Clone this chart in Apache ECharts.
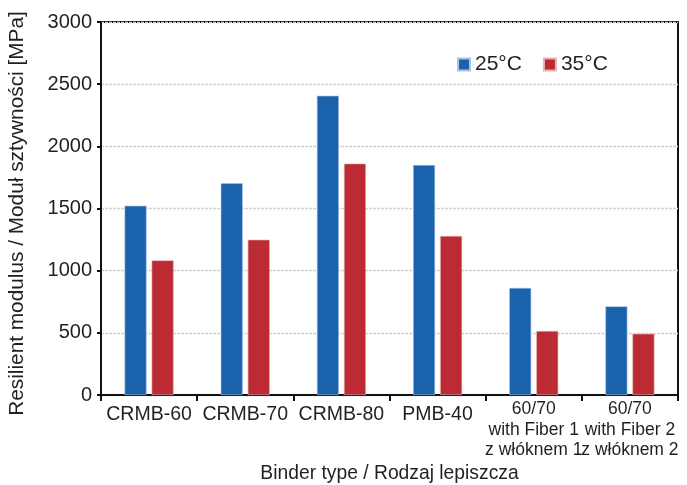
<!DOCTYPE html>
<html>
<head>
<meta charset="utf-8">
<script src="https://cdn.jsdelivr.net/npm/echarts@6/dist/echarts.min.js"></script>
<style>
html,body{margin:0;padding:0;background:#fff;}
#chart{width:687px;height:485px;}
</style>
</head>
<body>
<div id="chart"></div>
<script>
var categories = ['CRMB-60', 'CRMB-70', 'CRMB-80', 'PMB-40', '60/70\nwith Fiber 1\nz włóknem 1', '60/70\nwith Fiber 2\nz włóknem 2'];
var series25 = [1522, 1703, 2407, 1850, 861, 713];
var series35 = [1083, 1249, 1861, 1279, 515, 493];
var yTicks = { min: 0, max: 3000, interval: 500 };
var seriesNames = ['25°C', '35°C'];
var xTitle = 'Binder type / Rodzaj lepiszcza';
var yTitle = 'Resilient modulus / Moduł sztywności [MPa]';

var textColor = '#231f20';
var font = 'Liberation Sans, Arial, sans-serif';
var chart = echarts.init(document.getElementById('chart'), null, {renderer: 'canvas'});
chart.setOption({
  animation: false,
  backgroundColor: '#fff',
  textStyle: {fontFamily: font, color: textColor},
  grid: {left: 101, right: 9, top: 22, bottom: 90, containLabel: false, outerBoundsMode: 'none',
         show: true, borderColor: '#111', borderWidth: 2, backgroundColor: 'transparent'},
  legend: {
    data: seriesNames, left: 452, top: 49, icon: 'rect', itemWidth: 12, itemHeight: 12, itemGap: 21,
    textStyle: {fontSize: 21, color: textColor, fontFamily: font}
  },
  xAxis: {
    type: 'category', data: categories,
    name: xTitle, nameLocation: 'middle', nameGap: 62,
    nameTextStyle: {fontSize: 19.3, color: textColor, fontFamily: font},
    axisLine: {lineStyle: {color: '#111', width: 2}},
    axisTick: {show: true, length: 6, lineStyle: {color: '#111', width: 2}},
    axisLabel: {
      interval: 0, margin: 4, color: textColor, hideOverlap: false,
      formatter: function (v) {
        if (v.indexOf('\n') >= 0) {
          return v.split('\n').map(function (s) { return '{s|' + s + '}'; }).join('\n');
        }
        return '{b|' + v + '}';
      },
      rich: {
        s: {fontSize: 17.5, lineHeight: 20.5, color: textColor, fontFamily: font},
        b: {fontSize: 19.5, lineHeight: 31, color: textColor, fontFamily: font}
      }
    },
    splitLine: {show: false}
  },
  yAxis: {
    type: 'value', min: yTicks.min, max: yTicks.max, interval: yTicks.interval,
    name: yTitle, nameLocation: 'middle', nameGap: 73,
    nameTextStyle: {fontSize: 20.8, color: textColor, fontFamily: font, padding: [0, 10, 0, 0]},
    axisLine: {show: true, lineStyle: {color: '#111', width: 2}},
    axisTick: {show: true, length: 4, lineStyle: {color: '#111', width: 2}},
    axisLabel: {fontSize: 20, margin: 9, color: textColor, fontFamily: font,
                formatter: function (v) { return String(v); }},
    splitLine: {show: true, lineStyle: {color: '#d2d2d2', type: [3, 1], width: 1.3}}
  },
  series: [
    {name: seriesNames[0], type: 'bar', data: series25, barWidth: 22, barGap: '23%',
     itemStyle: {color: '#1b62ad', borderColor: '#a9c3e2', borderWidth: 0.6}},
    {name: seriesNames[1], type: 'bar', data: series35, barWidth: 22,
     itemStyle: {color: '#bc2a33', borderColor: '#e6b2b5', borderWidth: 0.6}}
  ]
});
</script>
</body>
</html>
